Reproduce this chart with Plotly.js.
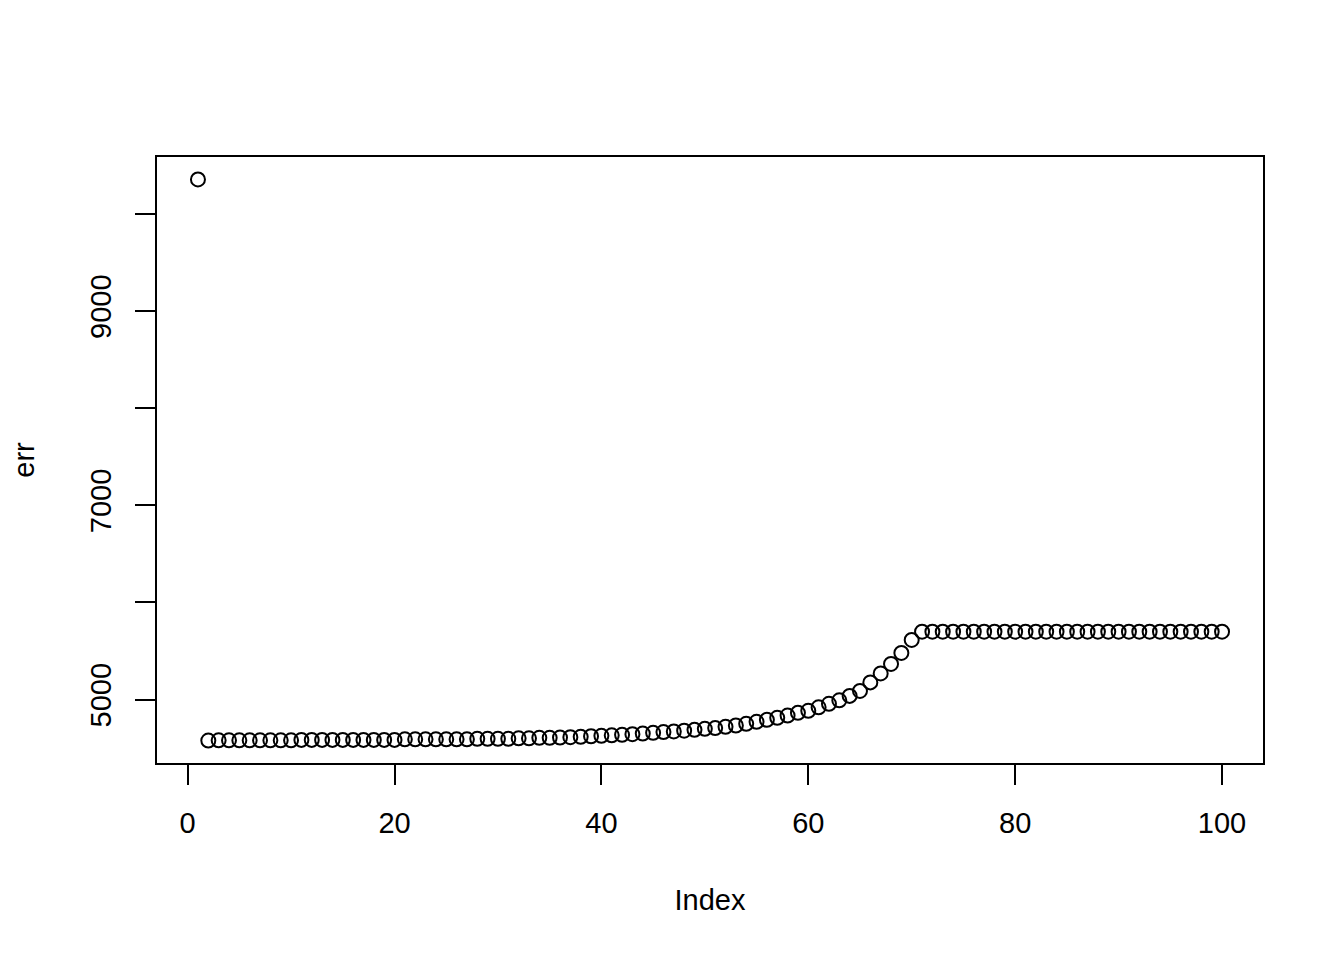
<!DOCTYPE html>
<html>
<head>
<meta charset="utf-8">
<script src="https://cdn.plot.ly/plotly-3.0.1.min.js"></script>
<style>
  html, body { margin: 0; padding: 0; background: #fff; }
  #plot { width: 1344px; height: 960px; }
</style>
</head>
<body>
<div id="plot"></div>
<script>
// err values, one per index 1..100
const err = [
    10355, 4578,
    4580, 4580, 4580, 4580, 4580, 4580, 4580, 4580,
    4585, 4585, 4585, 4585, 4585, 4585, 4585, 4585, 4585, 4585,
    4591, 4591, 4591, 4591, 4591, 4591, 4591,
    4596, 4596, 4596, 4596,
    4601, 4601, 4606, 4606, 4609, 4613, 4616, 4622, 4627, 4632,
    4637, 4644, 4650, 4658, 4665, 4672, 4680, 4688, 4699, 4706,
    4719, 4733, 4750, 4771, 4791, 4812, 4835, 4863, 4884, 4920,
    4956, 4992, 5038, 5089, 5177, 5269, 5367, 5480, 5614,
    5699, 5699, 5699, 5699, 5699, 5699, 5699, 5699, 5699, 5699,
    5699, 5699, 5699, 5699, 5699, 5699, 5699, 5699, 5699, 5699,
    5699, 5699, 5699, 5699, 5699, 5699, 5699, 5699, 5699, 5699
];
const index = err.map((v, i) => i + 1);

const xTicks = [0, 20, 40, 60, 80, 100];
const yTicks = [5000, 6000, 7000, 8000, 9000, 10000];
const yTickText = ["5000", "", "7000", "", "9000", ""];

// R style range: data range padded by 4% on each side
function pad(lo, hi) {
    const d = (hi - lo) * 0.04;
    return [lo - d, hi + d];
}

const font = {family: "Liberation Sans, Arial, Helvetica, sans-serif", size: 29, color: "#000"};

const data = [{
    x: index,
    y: err,
    type: "scatter",
    mode: "markers",
    marker: {
        symbol: "circle-open",
        size: 14,
        color: "#000",
        line: {width: 2, color: "#000"}
    },
    hoverinfo: "skip"
}];

const layout = {
    width: 1344,
    height: 960,
    paper_bgcolor: "#fff",
    plot_bgcolor: "#fff",
    showlegend: false,
    font: font,
    margin: {l: 157, r: 81, t: 157, b: 197},
    xaxis: {
        range: pad(1, 100),
        tickvals: xTicks,
        ticktext: xTicks.map(String),
        ticks: "outside",
        ticklen: 20,
        tickwidth: 2,
        tickcolor: "#000",
        ticklabelstandoff: 13,
        tickfont: font,
        showgrid: false,
        zeroline: false,
        showline: true,
        mirror: true,
        linewidth: 2,
        linecolor: "#000",
        title: {text: "Index", font: font, standoff: 52},
        automargin: false
    },
    yaxis: {
        range: pad(Math.min(...err), Math.max(...err)),
        tickvals: yTicks,
        ticktext: yTickText,
        tickangle: -90,
        ticks: "outside",
        ticklen: 20,
        tickwidth: 2,
        tickcolor: "#000",
        ticklabelstandoff: 12,
        tickfont: font,
        showgrid: false,
        zeroline: false,
        showline: true,
        mirror: true,
        linewidth: 2,
        linecolor: "#000",
        title: {text: "err", font: font, standoff: 42},
        automargin: false
    }
};

Plotly.newPlot("plot", data, layout, {displayModeBar: false, staticPlot: true});
</script>
</body>
</html>
